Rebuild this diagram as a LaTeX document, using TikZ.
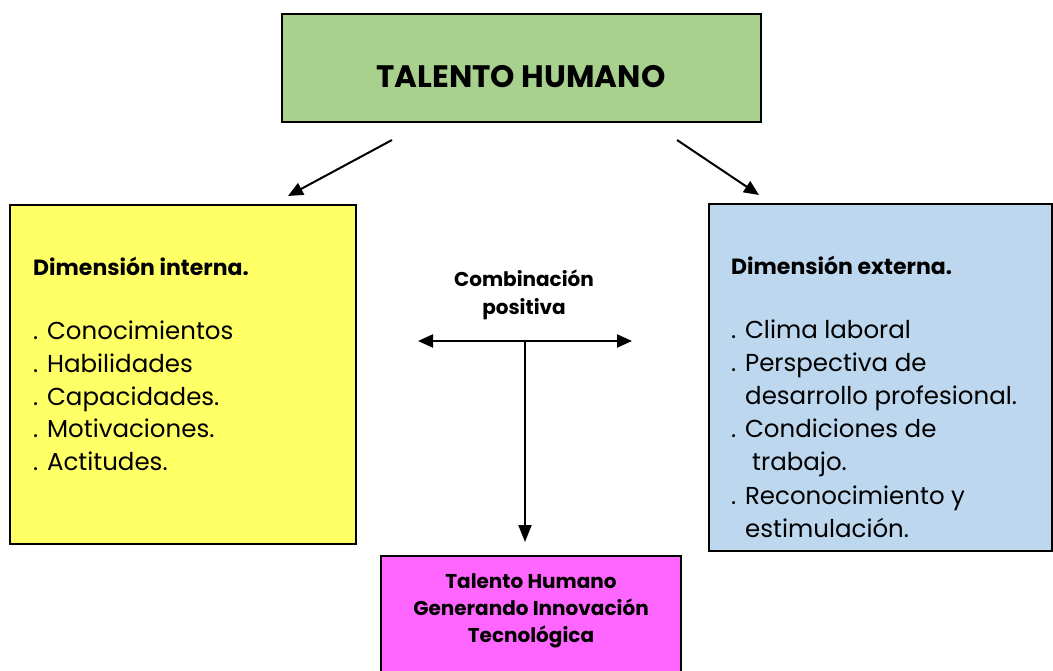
\documentclass[tikz,border=0pt]{standalone}
\usepackage{fontspec}
\setmainfont{Poppins}
\usetikzlibrary{arrows.meta}
\definecolor{thgreen}{HTML}{A9D18E}
\definecolor{thyellow}{HTML}{FFFF66}
\definecolor{thblue}{HTML}{BDD7EE}
\definecolor{thpink}{HTML}{FF66FF}
\tikzset{
  boxstyle/.style={draw=black, line width=1.5pt, inner sep=0pt},
  conn/.style={line width=2pt, -{Triangle[length=15pt,width=13pt]}},
  dconn/.style={line width=2pt, {Triangle[length=15pt,width=13pt]}-{Triangle[length=15pt,width=13pt]}},
  vconn/.style={line width=2pt, -{Triangle[length=17pt,width=13pt]}},
  itemtext/.style={anchor=base west, inner sep=0pt, font=\fontsize{24.5}{30}\selectfont},
  headtext/.style={anchor=base west, inner sep=0pt, font=\fontsize{22}{26}\bfseries\selectfont},
  midtext/.style={anchor=base, inner sep=0pt, font=\fontsize{20}{24}\bfseries\selectfont},
}
\begin{document}
\begin{tikzpicture}[x=1pt,y=-1pt]
\useasboundingbox (0,0) rectangle (1053,671);
% boxes
\path[boxstyle, fill=thgreen] (282,14) rectangle (761,122);
\node[anchor=base, inner sep=0pt, font=\fontsize{31}{36}\bfseries\selectfont] (top) at (521,88) {TALENTO HUMANO};
\path[boxstyle, fill=thyellow] (10,205) rectangle (356,544);
\path[boxstyle, fill=thblue] (709,204) rectangle (1052,551);
\path[boxstyle, fill=thpink] (381,556) rectangle (681,675);
% yellow text
\node[headtext] (inth) at (33,276) {Dimensión interna.};
\node[itemtext] (i1) at (33,340) {. Conocimientos};
\node[itemtext] (i2) at (33,372.5) {. Habilidades};
\node[itemtext] (i3) at (33,405) {. Capacidades.};
\node[itemtext] (i4) at (33,437.5) {. Motivaciones.};
\node[itemtext] (i5) at (33,470) {. Actitudes.};
% blue text
\node[headtext] (exth) at (731,275) {Dimensión externa.};
\node[itemtext] (e1) at (731,338) {. Clima laboral};
\node[itemtext] (e2) at (731,371.2) {. Perspectiva de};
\node[itemtext] (e3) at (745,404.4) {desarrollo profesional.};
\node[itemtext] (e4) at (731,437.6) {. Condiciones de};
\node[itemtext] (e5) at (752,470.8) {trabajo.};
\node[itemtext] (e6) at (731,504) {. Reconocimiento y};
\node[itemtext] (e7) at (745,537) {estimulación.};
% pink text
\node[midtext] (r1) at (531,588) {Talento Humano};
\node[midtext] (r2) at (531,615) {Generando Innovación};
\node[midtext] (r3) at (531,642) {Tecnológica};
% combination label
\node[midtext] (c1) at (524,287) {Combinación};
\node[midtext] (c2) at (524,315) {positiva};
% connectors
\coordinate (la) at (392,140);
\coordinate (lb) at (288,196);
\coordinate (ra) at (677,140);
\coordinate (rb) at (759,195);
\coordinate (hl) at (418,341);
\coordinate (hr) at (632,341);
\coordinate (hm) at (525,341);
\coordinate (vd) at (525,542);
\draw[conn] (la) -- (lb);
\draw[conn] (ra) -- (rb);
\draw[dconn] (hl) -- (hr);
\draw[vconn] (hm) -- (vd);
\end{tikzpicture}
\end{document}
